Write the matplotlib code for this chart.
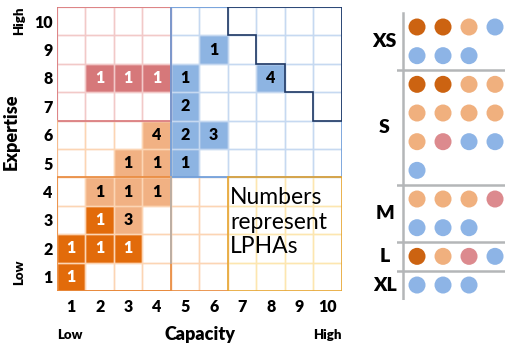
import matplotlib
matplotlib.use('Agg')
import matplotlib.pyplot as plt
from matplotlib.patches import Rectangle

plt.rcParams['font.family'] = ['Lato', 'DejaVu Sans']

# ---- grid of LPHAs by capacity / expertise ----
levels = list(range(1, 11))
cell_cap = [2, 3, 4, 5, 5, 5, 5, 6, 6, 8, 4, 3, 4, 2, 3, 4, 3, 1, 1, 2, 3, 2]
cell_exp = [8, 8, 8, 8, 7, 6, 5, 6, 9, 8, 6, 5, 5, 4, 4, 4, 3, 1, 2, 2, 2, 3]
cell_count = [1, 1, 1, 1, 2, 2, 1, 3, 1, 4, 4, 1, 1, 1, 1, 1, 3, 1, 1, 1, 1, 1]
cell_group = ['red'] * 3 + ['blue'] * 7 + ['light'] * 7 + ['dark'] * 5

# ---- dot panel on the right ----
size_labels = ['XS', 'S', 'M', 'L', 'XL']
size_dots = [
    ['dark', 'dark', 'light', 'blue', 'blue', 'blue', 'blue'],
    ['dark', 'dark', 'light', 'light', 'light', 'light', 'light', 'light',
     'light', 'red', 'blue', 'blue', 'blue'],
    ['light', 'light', 'light', 'red', 'blue', 'blue', 'blue'],
    ['dark', 'light', 'red', 'blue'],
    ['blue', 'blue', 'blue'],
]

FILL = {'red': '#d6787a', 'blue': '#8db4e2', 'light': '#f1b183', 'dark': '#e26b0a'}
TXT = {'red': 'white', 'blue': 'black', 'light': 'black', 'dark': 'white'}
DOT = {'red': '#dc8a8e', 'blue': '#8db4e6', 'light': '#f0b07e', 'dark': '#cc6311'}
BOLD = 'heavy'


def region(c, r):
    if c <= 4 and r >= 7:
        return '#f2c9c8'
    if c >= 5 and r >= 5:
        return '#c6d9f1'
    if c >= 7 and r <= 4:
        return '#fde6b0'
    return '#fcd5b4'


fig = plt.figure(figsize=(5.06, 3.47), dpi=100)
ax = fig.add_axes([57 / 506, 56 / 347, 285 / 506, 284 / 347])

ax.bar(cell_cap, 1, bottom=[e - 0.5 for e in cell_exp], width=1,
       color=[FILL[g] for g in cell_group], linewidth=0, zorder=1)
for c, e, n, g in zip(cell_cap, cell_exp, cell_count, cell_group):
    ax.text(c, e, str(n), ha='center', va='center', fontsize=11.5,
            fontweight=BOLD, color=TXT[g], zorder=5)

# cell borders
for c in levels:
    for r in levels:
        ax.add_patch(Rectangle((c - 0.5, r - 0.5), 1, 1, fill=False,
                               edgecolor=region(c, r), lw=1, zorder=2))

# region outlines
ax.add_patch(Rectangle((0.5, 6.5), 4, 4, fill=False, edgecolor='#d9787a', lw=1.2, zorder=3))
ax.add_patch(Rectangle((4.5, 4.5), 6, 6, fill=False, edgecolor='#6c9bd8', lw=1.2, zorder=3))
ax.plot([0.5, 0.5], [4.5, 6.5], color='#f5b888', lw=1.2, zorder=3)
ax.add_patch(Rectangle((0.5, 0.5), 4, 4, fill=False, edgecolor='#e8883a', lw=1.2, zorder=3))
ax.plot([0.5, 6.5], [0.5, 0.5], color='#e8883a', lw=1.2, zorder=3)
ax.plot([4.5, 4.5], [1.5, 4.5], color='#b4b4b4', lw=1.2, zorder=3)
ax.add_patch(Rectangle((6.5, 0.5), 4, 4, fill=False, edgecolor='#e6a532', lw=1.2, zorder=3))

# staircase
stair_cols = [7, 8, 9, 10]
ax.stairs([17 - c - 0.5 for c in stair_cols], [c - 0.5 for c in stair_cols] + [10.5],
          baseline=10.5, color='#1f3864', lw=1.2, zorder=4)
ax.plot([6.5, 10.5], [10.5, 10.5], color='#1f3864', lw=1.2, zorder=4)

ax.text(6.58, 4.15, 'Numbers\nrepresent\nLPHAs', ha='left', va='top',
        fontsize=16.5, linespacing=1.2, zorder=6)

ax.set_xlim(0.5, 10.5)
ax.set_ylim(0.5, 10.5)
ax.set_xticks(levels)
ax.set_yticks(levels)
ax.set_xticklabels(levels, fontweight=BOLD, fontsize=11.5)
ax.set_yticklabels(levels, fontweight=BOLD, fontsize=11.5)
ax.tick_params(length=0, pad=6)
ax.tick_params(axis='y', pad=3)
for s in ax.spines.values():
    s.set_visible(False)
ax.set_xlabel('Capacity', fontweight=BOLD, fontsize=13, labelpad=8)
ax.set_ylabel('Expertise', fontweight=BOLD, fontsize=13)
ax.yaxis.set_label_coords(-0.132, 0.56)
ax.text(0.0, -0.155, 'Low', transform=ax.transAxes, fontweight=BOLD, fontsize=9.5,
        ha='left', va='center')
ax.text(1.0, -0.155, 'High', transform=ax.transAxes, fontweight=BOLD, fontsize=9.5,
        ha='right', va='center')
ax.text(-0.132, 1.0, 'High', transform=ax.transAxes, fontweight=BOLD, fontsize=9.5,
        rotation=90, ha='center', va='top')
ax.text(-0.132, 0.02, 'Low', transform=ax.transAxes, fontweight=BOLD, fontsize=9.5,
        rotation=90, ha='center', va='bottom')

# ---- right panel ----
ax2 = fig.add_axes([397 / 506, 47 / 347, 109 / 506, 290 / 347])
ax2.set_xlim(-0.77, -0.77 + 109 / 26)
ax2.set_ylim(-0.593 + 290 / 28.67, -0.593)
ax2.axis('off')

row = 0
for lab, dots in zip(size_labels, size_dots):
    nrows = (len(dots) + 3) // 4
    xs = [i % 4 for i in range(len(dots))]
    ys = [row + i // 4 for i in range(len(dots))]
    ax2.scatter(xs, ys, s=150, c=[DOT[d] for d in dots], linewidths=0)
    ax2.text(-1.25, row + (nrows - 1) / 2, lab, ha='center', va='center',
             fontweight=BOLD, fontsize=14, clip_on=False)
    row += nrows
    if row < 10:
        ax2.axhline(row - 0.5, color='#b4b6b8', lw=1.8)
ax2.plot([-0.54, -0.54], [-0.49, 9.52], color='#b4b6b8', lw=1.8)

fig.savefig('out.png', dpi=100)
